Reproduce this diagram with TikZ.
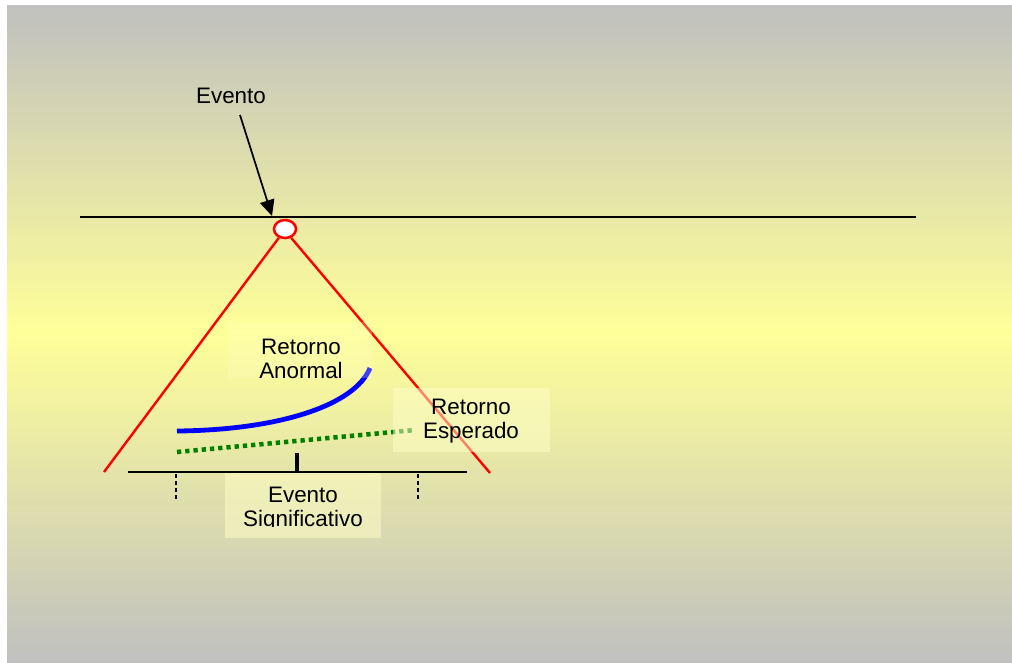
\documentclass[tikz,border=0pt]{standalone}
\usepackage{fontspec}
\setmainfont{Liberation Sans}
\usetikzlibrary{arrows.meta,shapes.geometric}
\definecolor{bggray}{RGB}{192,192,192}
\definecolor{bgyellow}{RGB}{255,255,153}
\definecolor{dgreen}{RGB}{0,128,0}
\definecolor{boxy}{RGB}{255,255,200}
\tikzset{
  lbl/.style={font=\fontsize{16.8}{18}\selectfont, align=center, inner sep=0pt, text=black},
  redline/.style={draw=red, line width=1.8pt},
  blackline/.style={draw=black, line width=1.2pt},
  overlay box/.style={fill=boxy, fill opacity=0.5, draw=none},
}
\begin{document}
\begin{tikzpicture}[x=0.75pt,y=-0.75pt]
\useasboundingbox (0,0) rectangle (1012,662);
\fill[white] (0,0) rectangle (1012,662);
\foreach \i in {0,...,131} {
  \pgfmathsetmacro\yy{5+\i*5}
  \pgfmathsetmacro\pp{max(0,100*(1-abs(\yy+2.5-333)/328))}
  \fill[bgyellow!\pp!bggray] (7,\yy) rectangle (1012,\yy+5.4);
}
% timeline
\coordinate (tl) at (80,217);
\coordinate (tr) at (916,217);
\draw[blackline] (tl) -- (tr);
% event circle
\node[ellipse, draw=red, fill=white, line width=1.9pt, minimum width=16.5pt, minimum height=13.5pt, inner sep=0pt] (ev) at (285,229) {};
% red cone
\coordinate (cl) at (104,472);
\coordinate (cr) at (490,473);
\draw[redline] (ev.235) -- (cl);
\draw[redline] (ev.-55) -- (cr);
% Evento label and arrow
\node[lbl] (evlbl) at (231,96) {Evento};
\coordinate (arrend) at (272,216);
\draw[line width=1.3pt, -{Triangle[length=12pt,width=11pt]}] (240,115) -- (arrend);
% bottom axis
\coordinate (bl) at (128,472);
\coordinate (br) at (467,472);
\draw[blackline] (bl) -- (br);
\draw[line width=3.2pt] (297,453) -- (297,472);
\draw[line width=1.8pt, dash pattern=on 3pt off 2.2pt] (176,474) -- (176,500);
\draw[line width=1.8pt, dash pattern=on 3pt off 2.2pt] (418,474) -- (418,500);
% curves
\coordinate (ba) at (177,431);
\coordinate (bb) at (370,368);
\draw[blue, line width=3.6pt] (ba) .. controls (280,430) and (355,405) .. (bb);
\coordinate (ga) at (177,452);
\coordinate (gb) at (415,430);
\draw[dgreen, line width=3.4pt, dash pattern=on 3.2pt off 3pt] (ga) -- (gb);
% overlay boxes
\fill[fill=boxy, fill opacity=0.25] (228,322) rectangle (372,378);
\fill[overlay box] (393,388) rectangle (550,452);
\fill[overlay box] (225,473) rectangle (381,538);
% labels
\node[lbl] (anorm) at (301,359) {Retorno\\Anormal};
\node[lbl] (esper) at (471,421) {Retorno\\Esperado};
\begin{scope}
\clip (225,473) rectangle (381,526);
\node[lbl] (sig) at (303,509) {Evento\\Significativo};
\end{scope}
\end{tikzpicture}
\end{document}
